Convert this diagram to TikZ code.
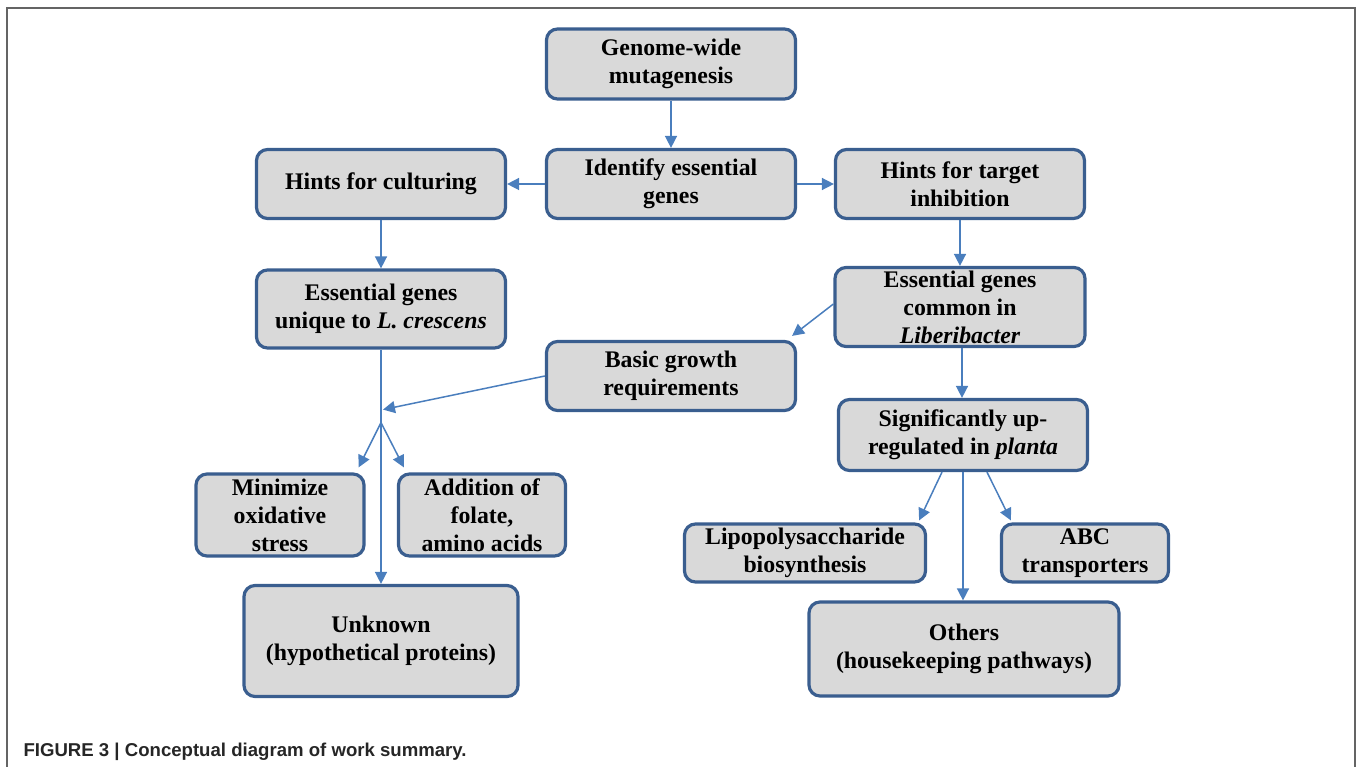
\documentclass[tikz,border=0pt]{standalone}
\usepackage{fontspec}
\setmainfont{Liberation Serif}
\newfontfamily\capfont{Liberation Sans}
\usetikzlibrary{arrows.meta}
\definecolor{boxline}{RGB}{58,94,143}
\definecolor{boxfill}{RGB}{217,217,217}
\definecolor{arrblue}{RGB}{74,126,189}
\definecolor{framegray}{RGB}{100,100,100}

\begin{document}
\begin{tikzpicture}[
  x=1pt, y=-1pt,
  box/.style={draw=boxline, fill=boxfill, line width=3.2pt, rounded corners=11pt,
    inner sep=0pt, align=center, font=\bfseries\fontsize{23.8}{28}\selectfont},
  arr/.style={arrblue, line width=1.5pt, -{Triangle[length=12pt, width=12pt]}},
]
%\draw[gray, help lines, step=50] (0,0) grid (1358,767);
\useasboundingbox (0,0) rectangle (1358,767);
\draw [framegray, line width=1.4pt] (7,767) -- (7,8) -- (1355,8) -- (1355,767);

\node [box, minimum width=249, minimum height=70] (genome) at (671,64) {Genome-wide\\mutagenesis};
\node [box, minimum width=249, minimum height=69] (ident)  at (671,184) {Identify essential\\genes};
\node [box, minimum width=249, minimum height=69] (culture) at (381,184) {Hints for culturing};
\node [box, minimum width=249, minimum height=69] (target) at (960,184) {Hints for target\\inhibition};
\node [box, minimum width=249, minimum height=78] (unique) at (381,309) {Essential genes\\unique to \textit{L. crescens}};
\node [box, minimum width=250, minimum height=79] (common) at (960,307) {Essential genes\\common in\\\textit{Liberibacter}};
\node [box, minimum width=249, minimum height=69] (basic)  at (671,376) {Basic growth\\requirements};
\node [box, minimum width=249, minimum height=71] (upreg)  at (963,435) {Significantly up-\\regulated in \textit{planta}};
\node [box, minimum width=168, minimum height=82] (oxid)   at (280,515) {Minimize\\oxidative\\stress};
\node [box, minimum width=167, minimum height=82] (folate) at (482,515) {Addition of\\folate,\\amino acids};
\node [box, minimum width=274, minimum height=111] (unknown) at (381,641) {Unknown\\(hypothetical proteins)};
\node [box, minimum width=241, minimum height=58] (lps)    at (805,553) {Lipopolysaccharide\\biosynthesis};
\node [box, minimum width=167, minimum height=58] (abc)    at (1085,553) {ABC\\transporters};
\node [box, minimum width=310, minimum height=94] (others) at (964,649) {Others\\(housekeeping pathways)};

\coordinate (hit)  at ([shift={(2,60)}]unique.south);
\coordinate (fork) at ([shift={(0,73)}]unique.south);

\draw [arr] (genome) -- (ident);
\draw [arr] (ident) -- (culture);
\draw [arr] (ident) -- (target);
\draw [arr] (culture) -- (unique);
\draw [arr] (target) -- (common);
\draw [arr] ([shift={(0,-3)}]common.west) -- ([shift={(-5,-4)}]basic.north east);
\draw [arr] (unique) -- (unknown);
\draw [arr] (basic.west) -- (hit);
\draw [arr] (fork) -- ([shift={(-7,-5)}]oxid.north east);
\draw [arr] (fork) -- ([shift={(7,-5)}]folate.north west);
\draw [arr] ([shift={(2,0)}]common.south) -- ([shift={(2,0)}]common.south |- upreg.north);
\draw [arr] ([shift={(-21,0)}]upreg.south) -- ([shift={(-8,-2)}]lps.north east);
\draw [arr] (upreg.south) -- (upreg.south |- others.north);
\draw [arr] ([shift={(24,0)}]upreg.south) -- ([shift={(11,-2)}]abc.north west);

\node [anchor=base west, text=black!85, font=\capfont\bfseries\fontsize{18.6}{22}\selectfont] (caption) at (20,756)
  {FIGURE 3 | Conceptual diagram of work summary.};
\end{tikzpicture}
\end{document}
